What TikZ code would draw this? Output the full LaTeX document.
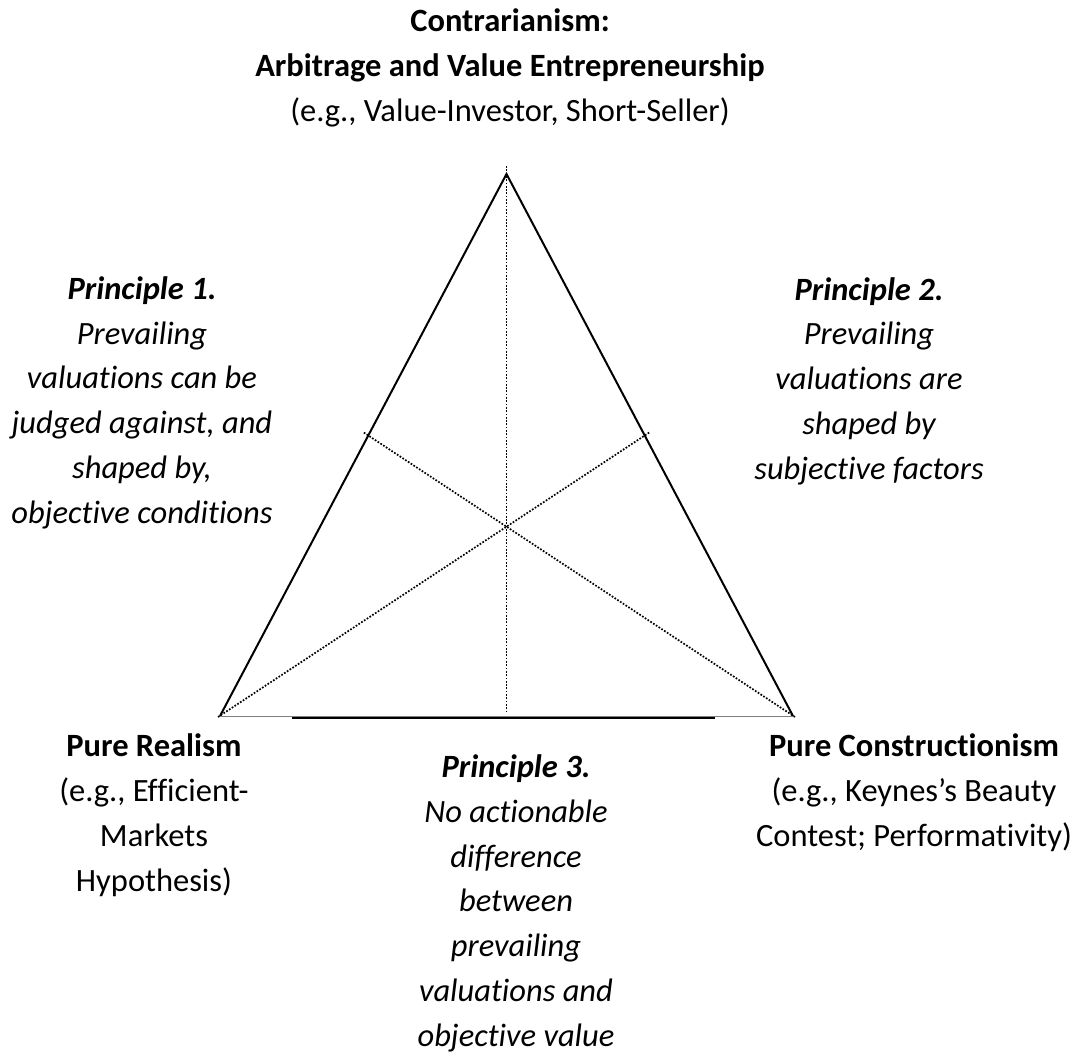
\documentclass[tikz,border=0pt]{standalone}
\usepackage{fontspec}
\setmainfont[Ligatures=NoCommon]{Carlito}
\begin{document}
\begin{tikzpicture}[x=1pt,y=-1pt,
  corner text/.style={align=center, anchor=base, inner sep=0pt,
    font=\fontsize{32.5}{44.7}\selectfont},
  principle text/.style={corner text,
    font=\fontsize{32.5}{44.7}\selectfont\itshape},
  side/.style={line width=2pt},
  guide/.style={line width=1.7pt, dash pattern=on 1.7pt off 1.6pt}]
\useasboundingbox (0,0) rectangle (1075,1055);

% corners of the triangle
\coordinate (apex) at (506.5,174);
\coordinate (left) at (220,716);
\coordinate (right) at (793,716);
% ends of the dotted guides
\coordinate (apexTop) at (506.5,166);
\coordinate (baseMid) at (506.5,713);
\coordinate (leftEnd) at (363,432);
\coordinate (rightEnd) at (650,432);
\coordinate (leftFoot) at (218,717);
\coordinate (rightFoot) at (795,717);
\coordinate (baseL) at (292,718);
\coordinate (baseR) at (715,718);

% draw the triangle
\draw[side] (left) -- (apex) -- (right);
\draw[gray, line width=1pt] (left) -- (right);
\draw[line width=2.5pt] (baseL) -- (baseR);

% draw dotted guides
\draw[guide] (apexTop) -- (baseMid);
\draw[guide] (leftFoot) -- (rightEnd);
\draw[guide] (rightFoot) -- (leftEnd);

% draw nodes at the corners (placed by their last line)
\node[corner text] (contra) at (510,121) {
  \textbf{Contrarianism:} \\
  \textbf{Arbitrage and Value Entrepreneurship} \\
  (e.g., Value-Investor, Short-Seller)
};
\node[corner text] (realism) at (154,891) {
  \textbf{Pure Realism} \\
  (e.g., Efficient- \\
  Markets \\
  Hypothesis)
};
\node[corner text] (construct) at (914,846) {
  \textbf{Pure Constructionism} \\
  (e.g., Keynes’s Beauty \\
  Contest; Performativity)
};

% draw nodes for the principles
\node[principle text] (prinA) at (142,523) {
  \textbf{Principle 1.} \\
  Prevailing \\
  valuations can be \\
  judged against, and \\
  shaped by, \\
  objective conditions
};
\node[principle text] (prinB) at (869,479) {
  \textbf{Principle 2.} \\
  Prevailing \\
  valuations are \\
  shaped by \\
  subjective factors
};
\node[principle text] (prinC) at (516,1046) {
  \textbf{Principle 3.} \\
  No actionable \\
  difference \\
  between \\
  prevailing \\
  valuations and \\
  objective value
};
\end{tikzpicture}
\end{document}
